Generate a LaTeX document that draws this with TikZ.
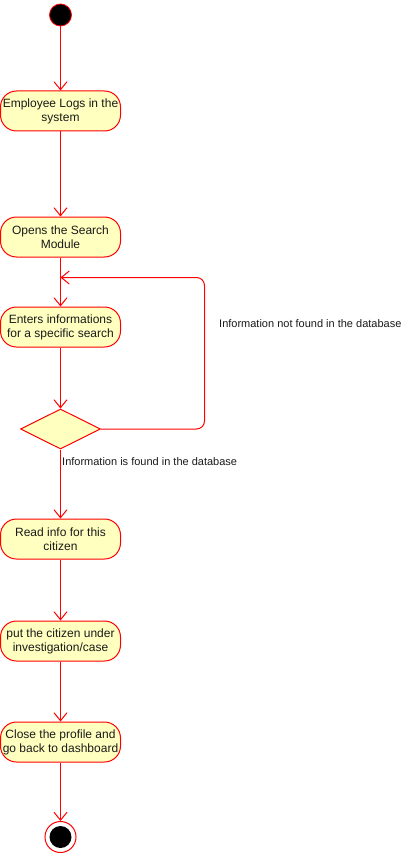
\documentclass[tikz,border=0pt]{standalone}
\usepackage{fontspec}
\setmainfont{Liberation Sans}
\usetikzlibrary{arrows.meta,shapes.geometric}
\definecolor{umlred}{HTML}{FF0000}
\definecolor{umlfill}{HTML}{FFFFC0}
\definecolor{txt}{HTML}{1A1A1A}
\begin{document}
\begin{tikzpicture}[x=1pt,y=-1pt,
  act/.style={draw=umlred,fill=umlfill,line width=1pt,rounded corners=16pt,
    minimum width=120pt,minimum height=40pt,inner sep=0pt,align=center,
    font=\fontsize{12}{14}\selectfont,text=txt},
  dec/.style={draw=umlred,fill=umlfill,line width=1pt,diamond,aspect=2,
    minimum width=80pt,minimum height=40pt,inner sep=0pt},
  arr/.style={color=umlred,draw=umlred,line width=1pt,-{Straight Barb[length=8pt,width=13pt,line width=1pt]}},
  lbl/.style={font=\fontsize{11}{13}\selectfont,text=txt,inner sep=0pt,anchor=west},
]
\useasboundingbox (0,0) rectangle (402,853);
\node[circle,fill=black,draw=umlred,line width=0.8pt,minimum size=22pt,inner sep=0pt] (start) at (60.5,15) {};
\node[act] (b1) at (60.5,111) {Employee Logs in the\\system};
\node[act] (b2) at (60.5,237) {Opens the Search\\Module};
\node[act] (b3) at (60.5,327) {Enters informations\\for a specific search};
\node[dec] (dia) at (60.5,429) {};
\node[act] (b4) at (60.5,539) {Read info for this\\citizen};
\node[act] (b5) at (60.5,641) {put the citizen under\\investigation/case};
\node[act] (b6) at (60.5,742) {Close the profile and\\go back to dashboard};
\node[circle,draw=umlred,fill=white,line width=1pt,minimum size=31pt,inner sep=0pt] (endo) at (60.5,837) {};
\node[circle,fill=black,minimum size=22pt,inner sep=0pt] (endi) at (60.5,837) {};
\coordinate (loopin) at (60.5,277.5);
\coordinate (loopc) at (204.5,277.5);

\draw[arr] (start) -- (b1);
\draw[arr] (b1) -- (b2);
\draw[arr] (b2) -- (b3);
\draw[arr] (b3) -- (dia);
\draw[arr,rounded corners=8pt] (dia.east) -- (dia.east -| loopc) -- (loopc) -- (loopin);
\draw[arr] (dia) -- (b4);
\draw[arr] (b4) -- (b5);
\draw[arr] (b5) -- (b6);
\draw[arr] (b6) -- (endo);

\node[lbl] (l1) at (219,324) {Information not found in the database};
\node[lbl] (l2) at (62,462) {Information is found in the database};
\end{tikzpicture}
\end{document}
